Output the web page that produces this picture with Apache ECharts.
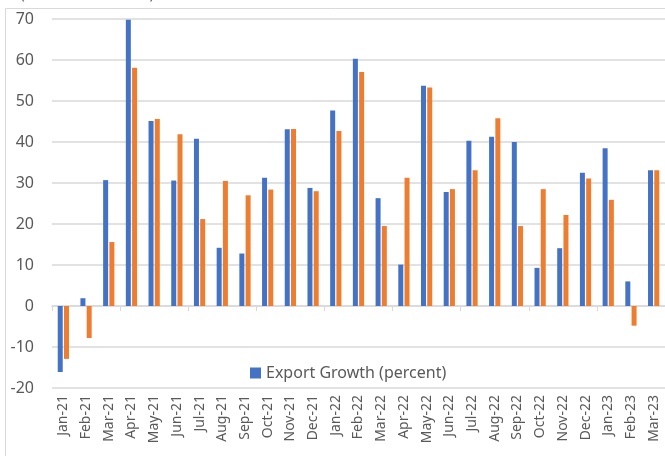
<!DOCTYPE html>
<html>
<head>
<meta charset="utf-8">
<script src="https://cdn.jsdelivr.net/npm/echarts@6/dist/echarts.min.js"></script>
<style>
  html, body { margin: 0; padding: 0; background: #fff; }
  #main { width: 665px; height: 456px; }
</style>
</head>
<body>
<div id="main"></div>
<script>
// 月份
var months = ['Jan-21','Feb-21','Mar-21','Apr-21','May-21','Jun-21','Jul-21','Aug-21','Sep-21','Oct-21','Nov-21','Dec-21',
  'Jan-22','Feb-22','Mar-22','Apr-22','May-22','Jun-22','Jul-22','Aug-22','Sep-22','Oct-22','Nov-22','Dec-22',
  'Jan-23','Feb-23','Mar-23'];

// 出口增长（蓝）
var exportGrowth = [-16.1, 1.9, 30.7, 69.8, 45.1, 30.6, 40.8, 14.2, 12.8, 31.3, 43.1, 28.8,
  47.7, 60.3, 26.3, 10.1, 53.7, 27.8, 40.3, 41.3, 40.0, 9.3, 14.1, 32.5,
  38.5, 6.0, 33.1];

// 第二序列（橙）
var otherGrowth = [-12.9, -7.8, 15.6, 58.1, 45.6, 41.9, 21.2, 30.5, 27.0, 28.4, 43.2, 28.0,
  42.7, 57.1, 19.5, 31.3, 53.3, 28.5, 33.1, 45.8, 19.5, 28.5, 22.2, 31.1,
  25.9, -4.8, 33.1];

var yTicks = { min: -20, max: 70, step: 10 };

var chart = echarts.init(document.getElementById('main'));

var axisColor = '#d9d9d9', textColor = '#595959';
var font = '"Noto Sans", "Open Sans", sans-serif';

chart.setOption({
  animation: false,
  textStyle: { fontFamily: font },
  graphic: [
    {
      type: 'rect',
      shape: { x: 5.5, y: 8.5, width: 700, height: 500 },
      style: { fill: 'none', stroke: axisColor, lineWidth: 1 },
      silent: true
    },
    {
      type: 'text',
      left: 20,
      top: -14,
      style: { text: '(YoY Growth Rate)', fontSize: 16, fill: textColor, fontFamily: font }
    }
  ],
  legend: {
    data: ['Export Growth (percent)'],
    left: 245,
    top: 360,
    icon: 'rect',
    itemWidth: 11,
    itemHeight: 11,
    itemGap: 4,
    textStyle: { color: textColor, fontSize: 16, fontFamily: font }
  },
  grid: { left: 52, right: -2, top: 19, bottom: 68, containLabel: false },
  xAxis: [
    {
      type: 'category',
      data: months,
      axisLine: { onZero: true, lineStyle: { color: axisColor, width: 1.5 } },
      axisTick: { show: true, length: 5, lineStyle: { color: axisColor } },
      axisLabel: { show: false }
    },
    {
      type: 'category',
      data: months,
      position: 'bottom',
      axisLine: { show: false, onZero: false },
      axisTick: { show: false },
      axisLabel: { rotate: 90, margin: 7, color: textColor, fontSize: 14, fontFamily: font }
    }
  ],
  yAxis: {
    type: 'value',
    min: yTicks.min,
    max: yTicks.max,
    interval: yTicks.step,
    axisLine: { show: false },
    axisTick: { show: false },
    axisLabel: { color: textColor, fontSize: 16, margin: 18, fontFamily: font },
    splitLine: { lineStyle: { color: axisColor, width: 1.5 } }
  },
  series: [
    {
      name: 'Export Growth (percent)',
      type: 'bar',
      xAxisIndex: 0,
      data: exportGrowth,
      barWidth: 5,
      barGap: '25%',
      itemStyle: { color: '#4472C4' }
    },
    {
      name: 'Other',
      type: 'bar',
      xAxisIndex: 0,
      data: otherGrowth,
      barWidth: 5,
      barGap: '25%',
      itemStyle: { color: '#ED7D31' }
    }
  ]
});
</script>
</body>
</html>
